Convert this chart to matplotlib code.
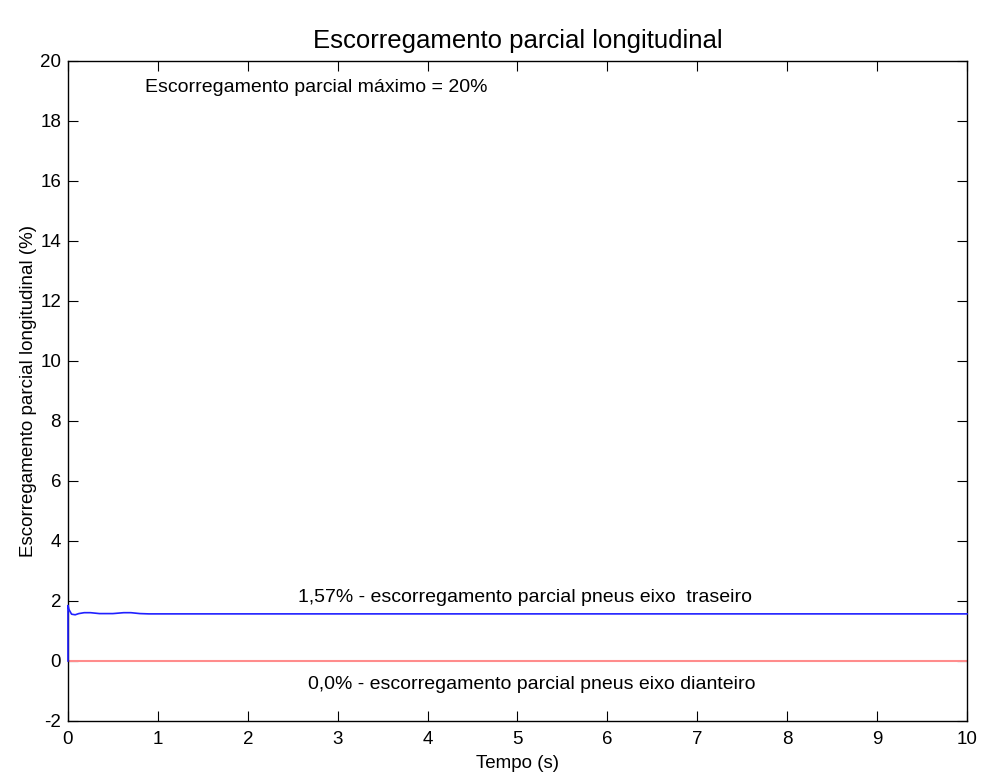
import matplotlib
matplotlib.use('Agg')
import matplotlib.pyplot as plt

# tempo (s) e escorregamento (%)
t_traseiro = [0, 0, 0.01, 0.04, 0.08, 0.12, 0.18, 0.25, 0.35, 0.5, 0.62, 0.7, 0.8, 0.9, 1.0, 10]
s_traseiro = [0, 1.85, 1.72, 1.56, 1.54, 1.58, 1.61, 1.61, 1.58, 1.58, 1.61, 1.61, 1.58, 1.57, 1.57, 1.57]
t_dianteiro = [0, 10]
s_dianteiro = [0, 0]

xticks = list(range(0, 11))
yticks = list(range(-2, 21, 2))

plt.rcParams['font.family'] = ['Liberation Sans', 'DejaVu Sans']
plt.rcParams['axes.unicode_minus'] = False

fig = plt.figure(figsize=(9.81, 7.76), dpi=100)
ax = fig.add_axes([0.0693, 0.0709, 0.9164, 0.8505])

# linha azul por cima do eixo para mostrar o degrau em t=0
ax.plot(t_traseiro, s_traseiro, color='#2020ff', linewidth=1.2, zorder=3, clip_on=False)
ax.plot(t_dianteiro, s_dianteiro, color='#ff8c8c', linewidth=1.5)

ax.set_xlim(0, 10)
ax.set_ylim(-2, 20)
ax.set_xticks(xticks)
ax.set_yticks(yticks)
ax.tick_params(direction='in', top=True, right=True, length=7, labelsize=13.5)
ax.tick_params(axis='x', pad=7)
ax.tick_params(axis='y', pad=5)
for s in ax.spines.values():
    s.set_linewidth(1.0)
    s.set_zorder(2)

ax.set_title('Escorregamento parcial longitudinal', fontsize=18.5, pad=9)
ax.set_xlabel('Tempo (s)', fontsize=13.5, labelpad=5)
ax.set_ylabel('Escorregamento parcial longitudinal (%)', fontsize=13.5, labelpad=2)

ax.text(0.86, 19.1, 'Escorregamento parcial máximo = 20%', fontsize=14, va='center')
ax.text(5.08, 2.13, '1,57% - escorregamento parcial pneus eixo  traseiro', fontsize=14,
        ha='center', va='center')
ax.text(5.16, -0.8, '0,0% - escorregamento parcial pneus eixo dianteiro', fontsize=14,
        ha='center', va='center')

fig.savefig('out.png', dpi=100)
